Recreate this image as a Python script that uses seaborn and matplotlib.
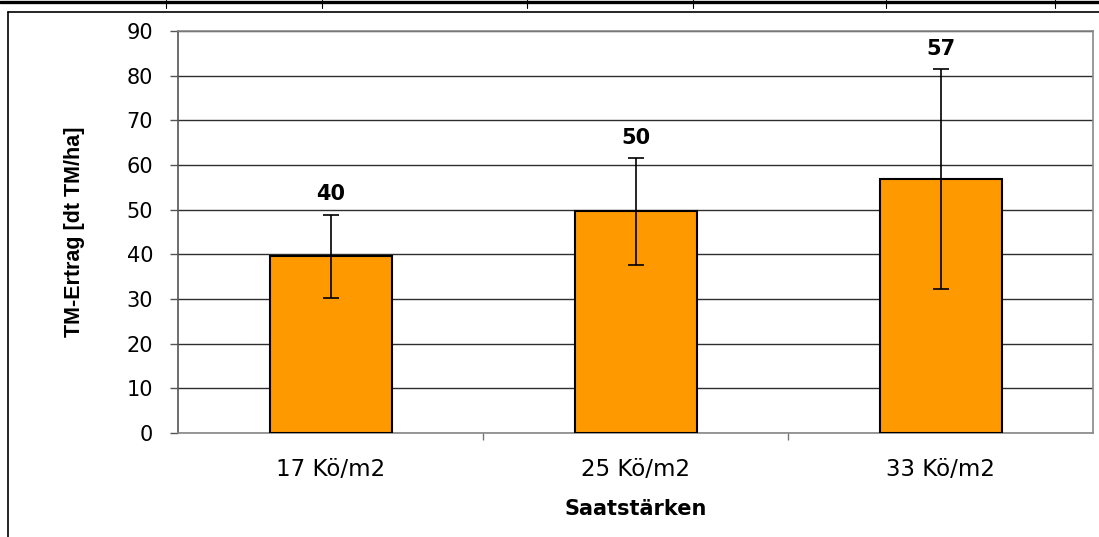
import matplotlib
matplotlib.use("Agg")
import matplotlib.pyplot as plt
from matplotlib.lines import Line2D
import seaborn as sns
import pandas as pd

categories = ["17 Kö/m2", "25 Kö/m2", "33 Kö/m2"]
values = [39.6, 49.6, 56.8]
errors = [9.3, 11.9, 24.6]
labels = ["40", "50", "57"]
yticks = [0, 10, 20, 30, 40, 50, 60, 70, 80, 90]

sns.set_theme(style="white")
plt.rcParams['font.family'] = ['DejaVu Sans']
plt.rcParams['text.color'] = 'black'
plt.rcParams['axes.labelcolor'] = 'black'
plt.rcParams['xtick.labelcolor'] = 'black'
plt.rcParams['ytick.labelcolor'] = 'black'

W, H = 1099, 537
fig = plt.figure(figsize=(W / 100, H / 100), dpi=100)
ax = fig.add_axes([178 / W, 1 - 433 / H, (1093 - 178) / W, (433 - 31) / H])

df = pd.DataFrame({"cat": categories, "val": values})
sns.barplot(data=df, x="cat", y="val", color="#FF9900", width=0.4,
            edgecolor="black", linewidth=1.5, saturation=1, ax=ax, zorder=3)
for p in ax.patches:
    p.set_facecolor("#FF9900")

xs = list(range(len(categories)))
ax.errorbar(xs, values, yerr=errors, fmt="none", ecolor="black",
            elinewidth=1.2, capsize=5.8, capthick=1.2, zorder=4)
for x, v, e, t in zip(xs, values, errors, labels):
    ax.text(x, v + e + 3.3, t, ha="center", va="baseline", fontsize=15,
            fontweight="bold", color="black")

ax.set_ylim(0, 90)
ax.set_xlim(-0.5, 2.5)
ax.set_yticks(yticks)
ax.set_yticklabels([str(t) for t in yticks], fontsize=15)
ax.yaxis.grid(True, color="#2e2e2e", linewidth=1.0, zorder=0)
ax.set_axisbelow(True)
ax.tick_params(axis="y", which="major", direction="out", length=6,
               width=1, color="#555555", left=True, pad=12)
ax.tick_params(axis="x", which="major", length=0, pad=18, labelsize=16.5)
ax.set_xticks([0.5, 1.5], minor=True)
ax.tick_params(axis="x", which="minor", direction="out", length=5,
               width=1, color="#777777", bottom=True)
for s in ["left", "bottom", "top", "right"]:
    ax.spines[s].set_visible(True)
    ax.spines[s].set_color("#888888")
    ax.spines[s].set_linewidth(1.2)
ax.spines["left"].set_color("#555555")

ax.set_xlabel("Saatstärken", fontsize=15, fontweight="bold", labelpad=13)
ax.set_ylabel("TM-Ertrag [dt TM/ha]", fontsize=15.5, fontweight="bold",
              labelpad=30, family=["Liberation Sans", "DejaVu Sans"])

# outer chart border (left and top visible)
fig.add_artist(Line2D([8 / W, 8 / W], [0, 1 - 12 / H], color="black",
                      linewidth=1.2, transform=fig.transFigure))
fig.add_artist(Line2D([8 / W, 1], [1 - 12 / H, 1 - 12 / H], color="black",
                      linewidth=1.2, transform=fig.transFigure))
# table fragment at top
fig.add_artist(Line2D([0, 1], [1 - 1.5 / H, 1 - 1.5 / H], color="black",
                      linewidth=2.4, transform=fig.transFigure))
for px in [166, 322, 527, 693, 886, 1055]:
    fig.add_artist(Line2D([px / W, px / W], [1, 1 - 8 / H], color="black",
                          linewidth=0.8, transform=fig.transFigure))

fig.savefig("out.png", dpi=100)
